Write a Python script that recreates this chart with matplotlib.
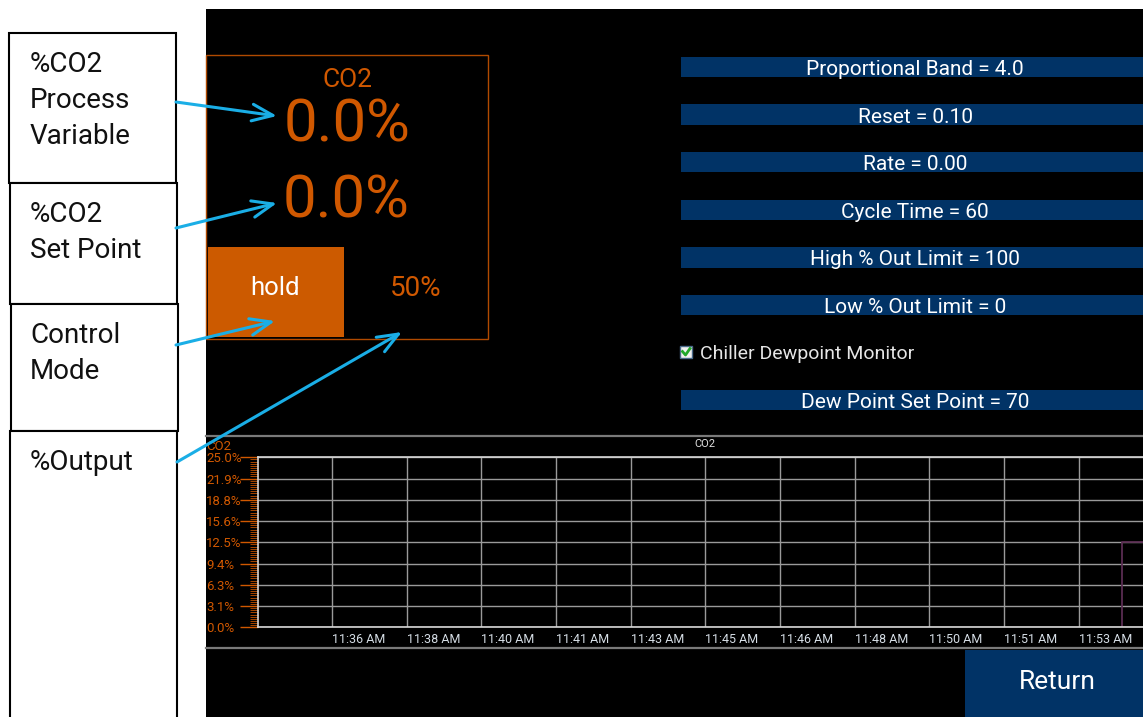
import datetime
import matplotlib
matplotlib.use('Agg')
import matplotlib.pyplot as plt
import matplotlib.ticker as ticker
from matplotlib.patches import Rectangle

plt.rcParams['font.family'] = ['Roboto', 'DejaVu Sans']

# callout labels on the left
callout_labels = [["%CO2", "Process", "Variable"], ["%CO2", "Set Point"], ["Control", "Mode"], ["%Output"]]

# CO2 loop panel
loop_name = "CO2"
process_value = "0.0%"
set_point = "0.0%"
control_mode = "hold"
output_pct = "50%"

# tuning parameters
param_names = ["Proportional Band", "Reset", "Rate", "Cycle Time", "High % Out Limit", "Low % Out Limit"]
param_values = ["4.0", "0.10", "0.00", "60", "100", "0"]
checkbox_label = "Chiller Dewpoint Monitor"
dewpoint_name = "Dew Point Set Point"
dewpoint_value = "70"

# trend chart
ytick_values = [0.0, 3.125, 6.25, 9.375, 12.5, 15.625, 18.75, 21.875, 25.0]
ytick_labels = ["0.0%", "3.1%", "6.3%", "9.4%", "12.5%", "15.6%", "18.8%", "21.9%", "25.0%"]
xtick_times = ["11:36:40", "11:38:20", "11:40:00", "11:41:40", "11:43:20", "11:45:00",
               "11:46:40", "11:48:20", "11:50:00", "11:51:40", "11:53:20"]
xtick_labels = ["11:36 AM", "11:38 AM", "11:40 AM", "11:41 AM", "11:43 AM", "11:45 AM",
                "11:46 AM", "11:48 AM", "11:50 AM", "11:51 AM", "11:53 AM"]
x_start, x_end = "11:35:00", "11:54:46"
co2_times = ["11:54:18", "11:54:18", "11:55:00"]
co2_values = [0.0, 12.5, 12.5]

orange = '#D05800'
navy = '#013366'
cyan = '#1AAEE6'


def t(s):
    return datetime.datetime.strptime("2020-01-01 " + s, "%Y-%m-%d %H:%M:%S")


W, H = 1143, 717
fig = plt.figure(figsize=(W / 100, H / 100), dpi=100)
ui = fig.add_axes([0, 0, 1, 1])
ui.set_xlim(0, W)
ui.set_ylim(H, 0)
ui.axis('off')

# black screen
ui.add_patch(Rectangle((206, 9), W - 206, H - 9, facecolor='black', edgecolor='none'))

# callout boxes
boxes = [(9, 33, 183), (10, 183, 304), (11, 304, 431), (10, 431, 725)]
for (bx, top, bot), lines in zip(boxes, callout_labels):
    ui.add_patch(Rectangle((bx, top), 167, bot - top, facecolor='white', edgecolor='black', lw=1.5))
    for i, s in enumerate(lines):
        ui.text(30, top + 39 + 36 * i, s, fontsize=20, color='#111111', va='baseline', ha='left')

# loop panel
ui.add_patch(Rectangle((206, 55), 282, 284, fill=False, edgecolor='#B04A00', lw=1))
ui.text(347, 87, loop_name, fontsize=19, color=orange, ha='center', va='baseline')
ui.text(347, 142, process_value, fontsize=43, color=orange, ha='center', va='baseline')
ui.text(346, 217, set_point, fontsize=43, color=orange, ha='center', va='baseline')
ui.add_patch(Rectangle((208, 247), 136, 90, facecolor='#CC5A00', edgecolor='none'))
ui.text(275, 295, control_mode, fontsize=18.5, color='white', ha='center', va='baseline')
ui.text(416, 296, output_pct, fontsize=20, color=orange, ha='center', va='baseline')

# parameter bars
rows = [f"{n} = {v}" for n, v in zip(param_names, param_values)]
for i, s in enumerate(rows):
    top = 56.7 + 47.6 * i
    ui.add_patch(Rectangle((681, top), 480, 20.5, facecolor=navy, edgecolor='none'))
    ui.text(915, top + 18.3, s, fontsize=15, color='white', ha='center', va='baseline')
top = 56.7 + 47.6 * 7
ui.add_patch(Rectangle((681, top), 480, 20.5, facecolor=navy, edgecolor='none'))
ui.text(915, top + 18.3, f"{dewpoint_name} = {dewpoint_value}", fontsize=15, color='white',
        ha='center', va='baseline')

# checkbox
ui.add_patch(Rectangle((680, 346), 12, 12, facecolor='#f2f2f2', edgecolor='#4a6a8a', lw=1))
ui.plot([682.5, 685.5, 690], [351.5, 355, 348.5], color='#22A82A', lw=2)
ui.text(700, 359.3, checkbox_label, fontsize=14, color='#e6e6e6', ha='left', va='baseline')

# chart separators and labels
ui.plot([206, W], [436, 436], color='#7a7a7a', lw=1.6)
ui.plot([206, W], [648, 648], color='#7a7a7a', lw=1.6)
ui.text(206, 449.5, loop_name, fontsize=9.5, color=orange, ha='left', va='baseline')
ui.text(705, 447, loop_name, fontsize=8, color='#e0e0e0', ha='center', va='baseline')

# return button
ui.add_patch(Rectangle((965, 650), W - 965, H - 650, facecolor=navy, edgecolor='none'))
ui.text(1057, 689, "Return", fontsize=19, color='white', ha='center', va='baseline')

# callout arrows
arrows = [((176, 102), (277, 116)), ((176, 228), (277, 203)),
          ((176, 345), (275, 321)), ((177, 462), (402, 332))]
for start, tip in arrows:
    ui.annotate('', xy=tip, xytext=start,
                arrowprops=dict(arrowstyle='->,head_length=1.5,head_width=0.6', color=cyan,
                                lw=2.2, mutation_scale=10, shrinkA=0, shrinkB=0))

# trend chart
left, right, ptop, pbot = 257.5, W, 457.3, 627.3
ax = fig.add_axes([left / W, 1 - pbot / H, (right - left) / W, (pbot - ptop) / H])
ax.set_facecolor('black')
ax.set_xlim(t(x_start), t(x_end))
ax.set_ylim(0, 25)
ax.set_yticks(ytick_values, ytick_labels)
ax.set_xticks([t(s) for s in xtick_times], xtick_labels)
ax.yaxis.set_minor_locator(ticker.AutoMinorLocator(10))
ax.grid(True, which='major', color='#9a9a9a', lw=1.0)
ax.tick_params(axis='y', which='major', length=13, width=1, color=orange, labelcolor=orange,
               labelsize=9.5, pad=24)
ax.tick_params(axis='y', which='minor', length=6, width=0.55, color=orange)
ax.tick_params(axis='x', length=0, labelcolor='#d5dde5', labelsize=9, pad=4)
for lb in ax.get_yticklabels():
    lb.set_ha('left')
for lb in ax.get_xticklabels():
    lb.set_ha('left')
ax.spines['right'].set_visible(False)
for side in ['top', 'left', 'bottom']:
    ax.spines[side].set_color('#d8d8d8')
    ax.spines[side].set_linewidth(1.2)

ax.plot([t(s) for s in co2_times], co2_values, color='#5a2d52', lw=1.3)

fig.savefig('out.png', dpi=100, facecolor='white')
